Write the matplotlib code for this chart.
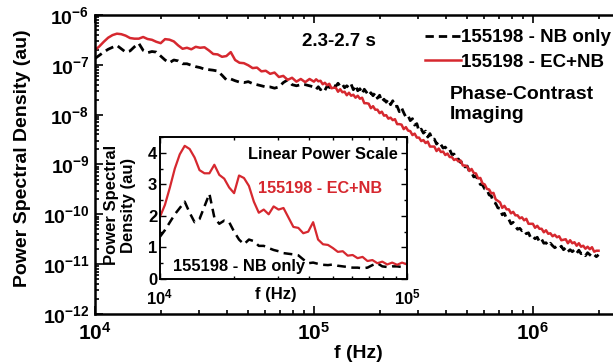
import numpy as np
import matplotlib.pyplot as plt
from matplotlib.ticker import NullFormatter, MultipleLocator

plt.rcParams['font.family'] = ['Liberation Sans', 'DejaVu Sans']
plt.rcParams['font.weight'] = 'bold'
plt.rcParams['mathtext.fontset'] = 'custom'
plt.rcParams['mathtext.rm'] = 'Liberation Sans:bold'
plt.rcParams['mathtext.bf'] = 'Liberation Sans:bold'
plt.rcParams['mathtext.it'] = 'Liberation Sans:bold'
plt.rcParams['mathtext.default'] = 'rm'

# frecuencias (log10 Hz)
logf_lo = [4.00, 4.02, 4.04, 4.06, 4.08, 4.10, 4.12, 4.14, 4.16, 4.18,
           4.20, 4.22, 4.24, 4.26, 4.28, 4.30, 4.32, 4.34, 4.36, 4.38,
           4.40, 4.42, 4.44, 4.46, 4.48, 4.50, 4.52, 4.54, 4.56, 4.58,
           4.60, 4.62, 4.64, 4.66, 4.68, 4.70, 4.72, 4.74, 4.76, 4.78,
           4.80, 4.82, 4.84, 4.86, 4.88, 4.90, 4.92, 4.94, 4.96, 4.98, 5.00]
logf_hi = [5.01, 5.02, 5.03, 5.04, 5.05, 5.06, 5.07, 5.08, 5.09, 5.10,
           5.11, 5.12, 5.13, 5.14, 5.15, 5.16, 5.17, 5.18, 5.19, 5.20,
           5.21, 5.22, 5.23, 5.24, 5.25, 5.26, 5.27, 5.28, 5.29, 5.30,
           5.31, 5.32, 5.33, 5.34, 5.35, 5.36, 5.37, 5.38, 5.39, 5.40,
           5.41, 5.42, 5.43, 5.44, 5.45, 5.46, 5.47, 5.48, 5.49, 5.50,
           5.51, 5.52, 5.53, 5.54, 5.55, 5.56, 5.57, 5.58, 5.59, 5.60,
           5.61, 5.62, 5.63, 5.64, 5.65, 5.66, 5.67, 5.68, 5.69, 5.70,
           5.71, 5.72, 5.73, 5.74, 5.75, 5.76, 5.77, 5.78, 5.79, 5.80,
           5.81, 5.82, 5.83, 5.84, 5.85, 5.86, 5.87, 5.88, 5.89, 5.90,
           5.91, 5.92, 5.93, 5.94, 5.95, 5.96, 5.97, 5.98, 5.99, 6.00,
           6.01, 6.02, 6.03, 6.04, 6.05, 6.06, 6.07, 6.08, 6.09, 6.10,
           6.11, 6.12, 6.13, 6.14, 6.15, 6.16, 6.17, 6.18, 6.19, 6.20,
           6.21, 6.22, 6.23, 6.24, 6.25, 6.26, 6.27, 6.28, 6.29, 6.30]

# densidad espectral 1e4-1e5 Hz (unidades de 1e-7 au)
ec_lo = [1.97, 2.35, 2.90, 3.50, 3.95, 4.22, 4.12, 3.85, 3.45, 3.35,
         3.35, 3.62, 3.30, 3.18, 2.90, 2.72, 3.28, 3.20, 2.95, 2.45,
         2.10, 2.20, 2.05, 2.30, 2.20, 2.25, 1.95, 1.65, 1.62, 1.45,
         1.50, 1.80, 1.25, 1.10, 1.08, 0.98, 0.86, 0.88, 0.74, 0.76,
         0.66, 0.70, 0.57, 0.60, 0.50, 0.55, 0.46, 0.52, 0.45, 0.52, 0.46]
nb_lo = [1.34, 1.55, 1.80, 2.05, 2.25, 2.45, 2.10, 1.80, 1.90, 2.30,
         2.70, 1.95, 1.75, 1.85, 1.80, 1.50, 1.25, 1.10, 1.25, 1.20,
         1.05, 1.05, 0.98, 0.92, 0.88, 0.82, 0.80, 0.78, 0.75, 0.62,
         0.50, 0.52, 0.48, 0.45, 0.44, 0.46, 0.42, 0.40, 0.38, 0.36,
         0.36, 0.34, 0.36, 0.44, 0.50, 0.40, 0.38, 0.40, 0.40, 0.38, 0.36]

# densidad espectral > 1e5 Hz (log10 au)
ec_hi_log = [-7.29, -7.33, -7.32, -7.39, -7.36, -7.41, -7.38, -7.47, -7.46, -7.46,
             -7.54, -7.49, -7.55, -7.54, -7.61, -7.56, -7.62, -7.60, -7.66, -7.62,
             -7.68, -7.66, -7.77, -7.77, -7.78, -7.87, -7.83, -7.90, -7.90, -7.97,
             -7.94, -8.02, -8.01, -8.08, -8.06, -8.11, -8.09, -8.19, -8.19, -8.20,
             -8.29, -8.25, -8.32, -8.33, -8.41, -8.38, -8.46, -8.46, -8.53, -8.51,
             -8.57, -8.54, -8.64, -8.64, -8.64, -8.73, -8.68, -8.75, -8.74, -8.81,
             -8.78, -8.85, -8.85, -8.91, -8.89, -8.94, -8.92, -9.02, -9.02, -9.04,
             -9.13, -9.09, -9.17, -9.18, -9.28, -9.27, -9.38, -9.40, -9.49, -9.50,
             -9.58, -9.57, -9.70, -9.73, -9.76, -9.87, -9.83, -9.90, -9.90, -9.98,
             -9.95, -10.02, -10.02, -10.08, -10.06, -10.12, -10.09, -10.19, -10.19, -10.19,
             -10.27, -10.23, -10.29, -10.29, -10.36, -10.32, -10.39, -10.38, -10.44, -10.41,
             -10.46, -10.44, -10.52, -10.51, -10.50, -10.58, -10.52, -10.58, -10.56, -10.63,
             -10.58, -10.65, -10.63, -10.69, -10.65, -10.70, -10.66, -10.75, -10.73, -10.73]
nb_hi_log = [-7.49, -7.44, -7.50, -7.46, -7.51, -7.43, -7.45, -7.47, -7.41, -7.43,
             -7.37, -7.43, -7.39, -7.46, -7.42, -7.46, -7.39, -7.50, -7.41, -7.52,
             -7.48, -7.58, -7.49, -7.55, -7.62, -7.56, -7.62, -7.56, -7.67, -7.61,
             -7.74, -7.69, -7.75, -7.69, -7.80, -7.72, -7.84, -7.83, -7.94, -7.86,
             -7.96, -8.05, -8.02, -8.12, -8.08, -8.21, -8.18, -8.33, -8.29, -8.37,
             -8.33, -8.45, -8.38, -8.50, -8.49, -8.59, -8.54, -8.60, -8.67, -8.65,
             -8.72, -8.70, -8.80, -8.79, -8.90, -8.89, -8.96, -8.95, -9.05, -9.03,
             -9.14, -9.16, -9.25, -9.23, -9.32, -9.40, -9.41, -9.49, -9.50, -9.61,
             -9.63, -9.76, -9.78, -9.87, -9.88, -10.01, -9.98, -10.09, -10.10, -10.19,
             -10.16, -10.24, -10.30, -10.28, -10.33, -10.31, -10.39, -10.37, -10.47, -10.44,
             -10.49, -10.46, -10.55, -10.50, -10.58, -10.57, -10.63, -10.58, -10.63, -10.67,
             -10.64, -10.68, -10.64, -10.71, -10.67, -10.75, -10.71, -10.75, -10.71, -10.78,
             -10.72, -10.79, -10.77, -10.83, -10.77, -10.81, -10.85, -10.81, -10.85, -10.81]

labels = ['155198 - NB only', '155198 - EC+NB']
ytick_main = ['$10^{-6}$', '$10^{-7}$', '$10^{-8}$', '$10^{-9}$',
              '$10^{-10}$', '$10^{-11}$', '$10^{-12}$']
xtick_main = ['$10^4$', '$10^5$', '$10^6$']

red = '#d6282f'
f_lo = 10 ** np.array(logf_lo)
f = np.concatenate([f_lo, 10 ** np.array(logf_hi)])
ec = np.concatenate([np.array(ec_lo) * 1e-7, 10 ** np.array(ec_hi_log)])
nb = np.concatenate([np.array(nb_lo) * 1e-7, 10 ** np.array(nb_hi_log)])

fig = plt.figure(figsize=(6.13, 3.64), dpi=100)
W, H = 613, 364

# Grafico principal
ax = fig.add_axes([95 / W, 50 / H, 525 / W, 299 / H])
ax.plot(f, nb, color='black', lw=2.0, dashes=(3, 1.8), label=labels[0])
ax.plot(f, ec, color=red, lw=1.8, label=labels[1])
ax.set_xscale('log')
ax.set_yscale('log')
ax.set_xlim(1e4, 2.5e6)
ax.set_ylim(1e-12, 1e-6)
ax.set_xticks([1e4, 1e5, 1e6])
ax.set_xticklabels(xtick_main, fontsize=15)
ax.set_yticks([1e-6, 1e-7, 1e-8, 1e-9, 1e-10, 1e-11, 1e-12])
ax.set_yticklabels(ytick_main, fontsize=14)
ax.tick_params(which='both', direction='in', top=True, right=False, width=1.2)
ax.tick_params(which='major', length=6)
ax.tick_params(which='minor', length=3)
ax.tick_params(axis='x', pad=6)
ax.tick_params(axis='y', pad=4)
ax.xaxis.set_minor_formatter(NullFormatter())
ax.yaxis.set_minor_formatter(NullFormatter())
for s in ax.spines.values():
    s.set_linewidth(1.8)

ax.legend(loc='upper left', bbox_to_anchor=(425 / W, 1 - 29 / H),
          bbox_transform=fig.transFigure, frameon=False, fontsize=13.5,
          handlelength=1.9, handletextpad=0.0, borderpad=0, borderaxespad=0,
          labelspacing=0.4)

fig.text(22.5 / W, 1 - 158.5 / H, 'Power Spectral Density (au)', rotation=90,
         ha='center', va='center', fontsize=14)
fig.text(358.5 / W, 1 - 353 / H, 'f (Hz)', ha='center', va='center', fontsize=14)
fig.text(302 / W, 1 - 41 / H, '2.3-2.7 s', ha='left', va='center', fontsize=13.5)
fig.text(450 / W, 1 - 86 / H, 'Phase-Contrast\nImaging', ha='left', va='top',
         fontsize=14, linespacing=1.2)

# Inset lineal
axin = fig.add_axes([160 / W, 85 / H, 247 / W, 142 / H])
axin.plot(f_lo, nb_lo, color='black', lw=1.8, dashes=(3.5, 2.2))
axin.plot(f_lo, ec_lo, color=red, lw=1.6)
axin.set_xscale('log')
axin.set_xlim(1e4, 1e5)
axin.set_ylim(0, 4.5)
axin.set_xticks([1e4, 1e5])
axin.set_xticklabels(['$10^4$', '$10^5$'], fontsize=12)
axin.xaxis.set_minor_formatter(NullFormatter())
axin.set_yticks([0, 1, 2, 3, 4])
axin.set_yticklabels(['0', '1', '2', '3', '4'], fontsize=12)
axin.yaxis.set_minor_locator(MultipleLocator(0.5))
axin.tick_params(which='both', direction='in', top=True, right=True, width=1.0)
axin.tick_params(which='major', length=4)
axin.tick_params(which='minor', length=2.5)
axin.tick_params(axis='x', pad=6)
axin.tick_params(axis='y', pad=2)
for s in axin.spines.values():
    s.set_linewidth(1.4)

axin.text(0.964, 0.88, 'Linear Power Scale', transform=axin.transAxes,
          ha='right', va='center', fontsize=11.8)
axin.text(0.648, 0.64, labels[1], transform=axin.transAxes, color=red,
          ha='center', va='center', fontsize=11.7)
axin.text(0.32, 0.085, labels[0], transform=axin.transAxes,
          ha='center', va='center', fontsize=11.9)
axin.text(0.47, -0.11, 'f (Hz)', transform=axin.transAxes,
          ha='center', va='center', fontsize=12)
fig.text(120 / W, 1 - 205 / H, 'Power Spectral\nDensity (au)', rotation=90,
         ha='center', va='center', multialignment='center', fontsize=12,
         linespacing=1.2)

fig.savefig('out.png', dpi=100)
